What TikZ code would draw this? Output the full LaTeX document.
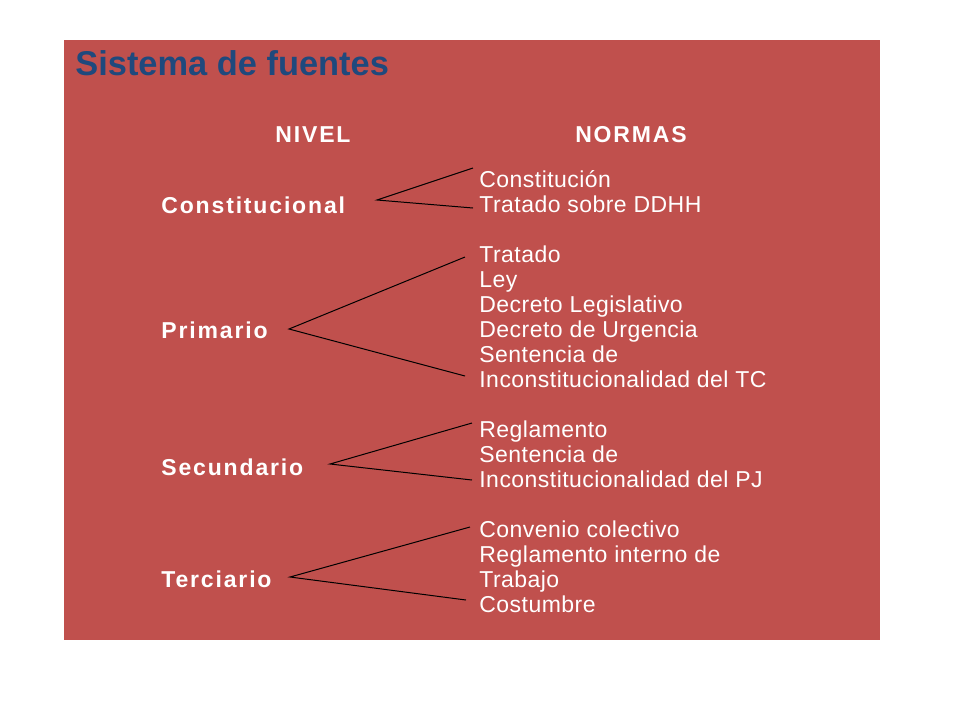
\documentclass[tikz,border=0pt]{standalone}
\usepackage{fontspec}
\setmainfont{Liberation Sans}
\newfontfamily\nivelfont[LetterSpace=8.0]{Liberation Sans}
\newfontfamily\normafont[LetterSpace=2.0]{Liberation Sans}
\usetikzlibrary{positioning}
\definecolor{fondo}{HTML}{C0504D}
\definecolor{titulo}{HTML}{1F497D}
\tikzset{
  nivel/.style  ={anchor=base west, inner sep=0pt, text=white,
                  font=\nivelfont\fontsize{11.5}{12.5}\selectfont\bfseries},
  cabeza/.style ={nivel, anchor=base},
  norma/.style  ={anchor=base west, inner sep=0pt, text=white,
                  font=\normafont\fontsize{11.5}{12.5}\selectfont},
  rama/.style   ={draw=black, line width=0.5pt}
}

\begin{document}
\begin{tikzpicture}[x=0.5pt,y=0.5pt]
\useasboundingbox[fill=white] (0,0) rectangle (960,-720);
\fill[fondo] (64,-40) rectangle (880,-640);
\node[anchor=base west, inner sep=0pt, text=titulo,
      font=\fontsize{17.2}{20}\selectfont\bfseries] (tit) at (75,-75) {Sistema de fuentes};
%% cabeceras
\node[cabeza] (hniv) at (313,-142) {NIVEL};
\node[cabeza] (hnor) at (631,-142) {NORMAS};
%% niveles
\node[nivel] (constit) at (161,-213) {Constitucional};
\node[nivel] (prim)    at (161,-338) {Primario};
\node[nivel] (secund)  at (161,-475) {Secundario};
\node[nivel] (terc)    at (161,-587) {Terciario};
%% normas
\node[norma] (cons)  at (479,-187) {Constitución};
\node[norma] (tddhh) at (479,-212) {Tratado sobre DDHH};
\node[norma] (trat)  at (479,-262) {Tratado};
\node[norma] (ley)   at (479,-287) {Ley};
\node[norma] (dleg)  at (479,-312) {Decreto Legislativo};
\node[norma] (durg)  at (479,-337) {Decreto de Urgencia};
\node[norma] (stc1)  at (479,-362) {Sentencia de};
\node[norma] (inc1)  at (479,-387) {Inconstitucionalidad del TC};
\node[norma] (regl)  at (479,-437) {Reglamento};
\node[norma] (stc2)  at (479,-462) {Sentencia de};
\node[norma] (inc2)  at (479,-487) {Inconstitucionalidad del PJ};
\node[norma] (conv)  at (479,-537) {Convenio colectivo};
\node[norma] (rint)  at (479,-562) {Reglamento interno de};
\node[norma] (trab)  at (479,-587) {Trabajo};
\node[norma] (cost)  at (479,-612) {Costumbre};
%% vertices y extremos de las ramas
\coordinate (vC) at (377,-200);
\coordinate (vP) at (289,-329);
\coordinate (vS) at (330,-464);
\coordinate (vT) at (290,-577);
\coordinate (aC) at (473,-168); \coordinate (bC) at (473,-208);
\coordinate (aP) at (465,-257); \coordinate (bP) at (465,-376);
\coordinate (aS) at (472,-423); \coordinate (bS) at (472,-480);
\coordinate (aT) at (470,-527); \coordinate (bT) at (466,-600);
\draw[rama] (aC) -- (vC) -- (bC);
\draw[rama] (aP) -- (vP) -- (bP);
\draw[rama] (aS) -- (vS) -- (bS);
\draw[rama] (aT) -- (vT) -- (bT);
\end{tikzpicture}
\end{document}
